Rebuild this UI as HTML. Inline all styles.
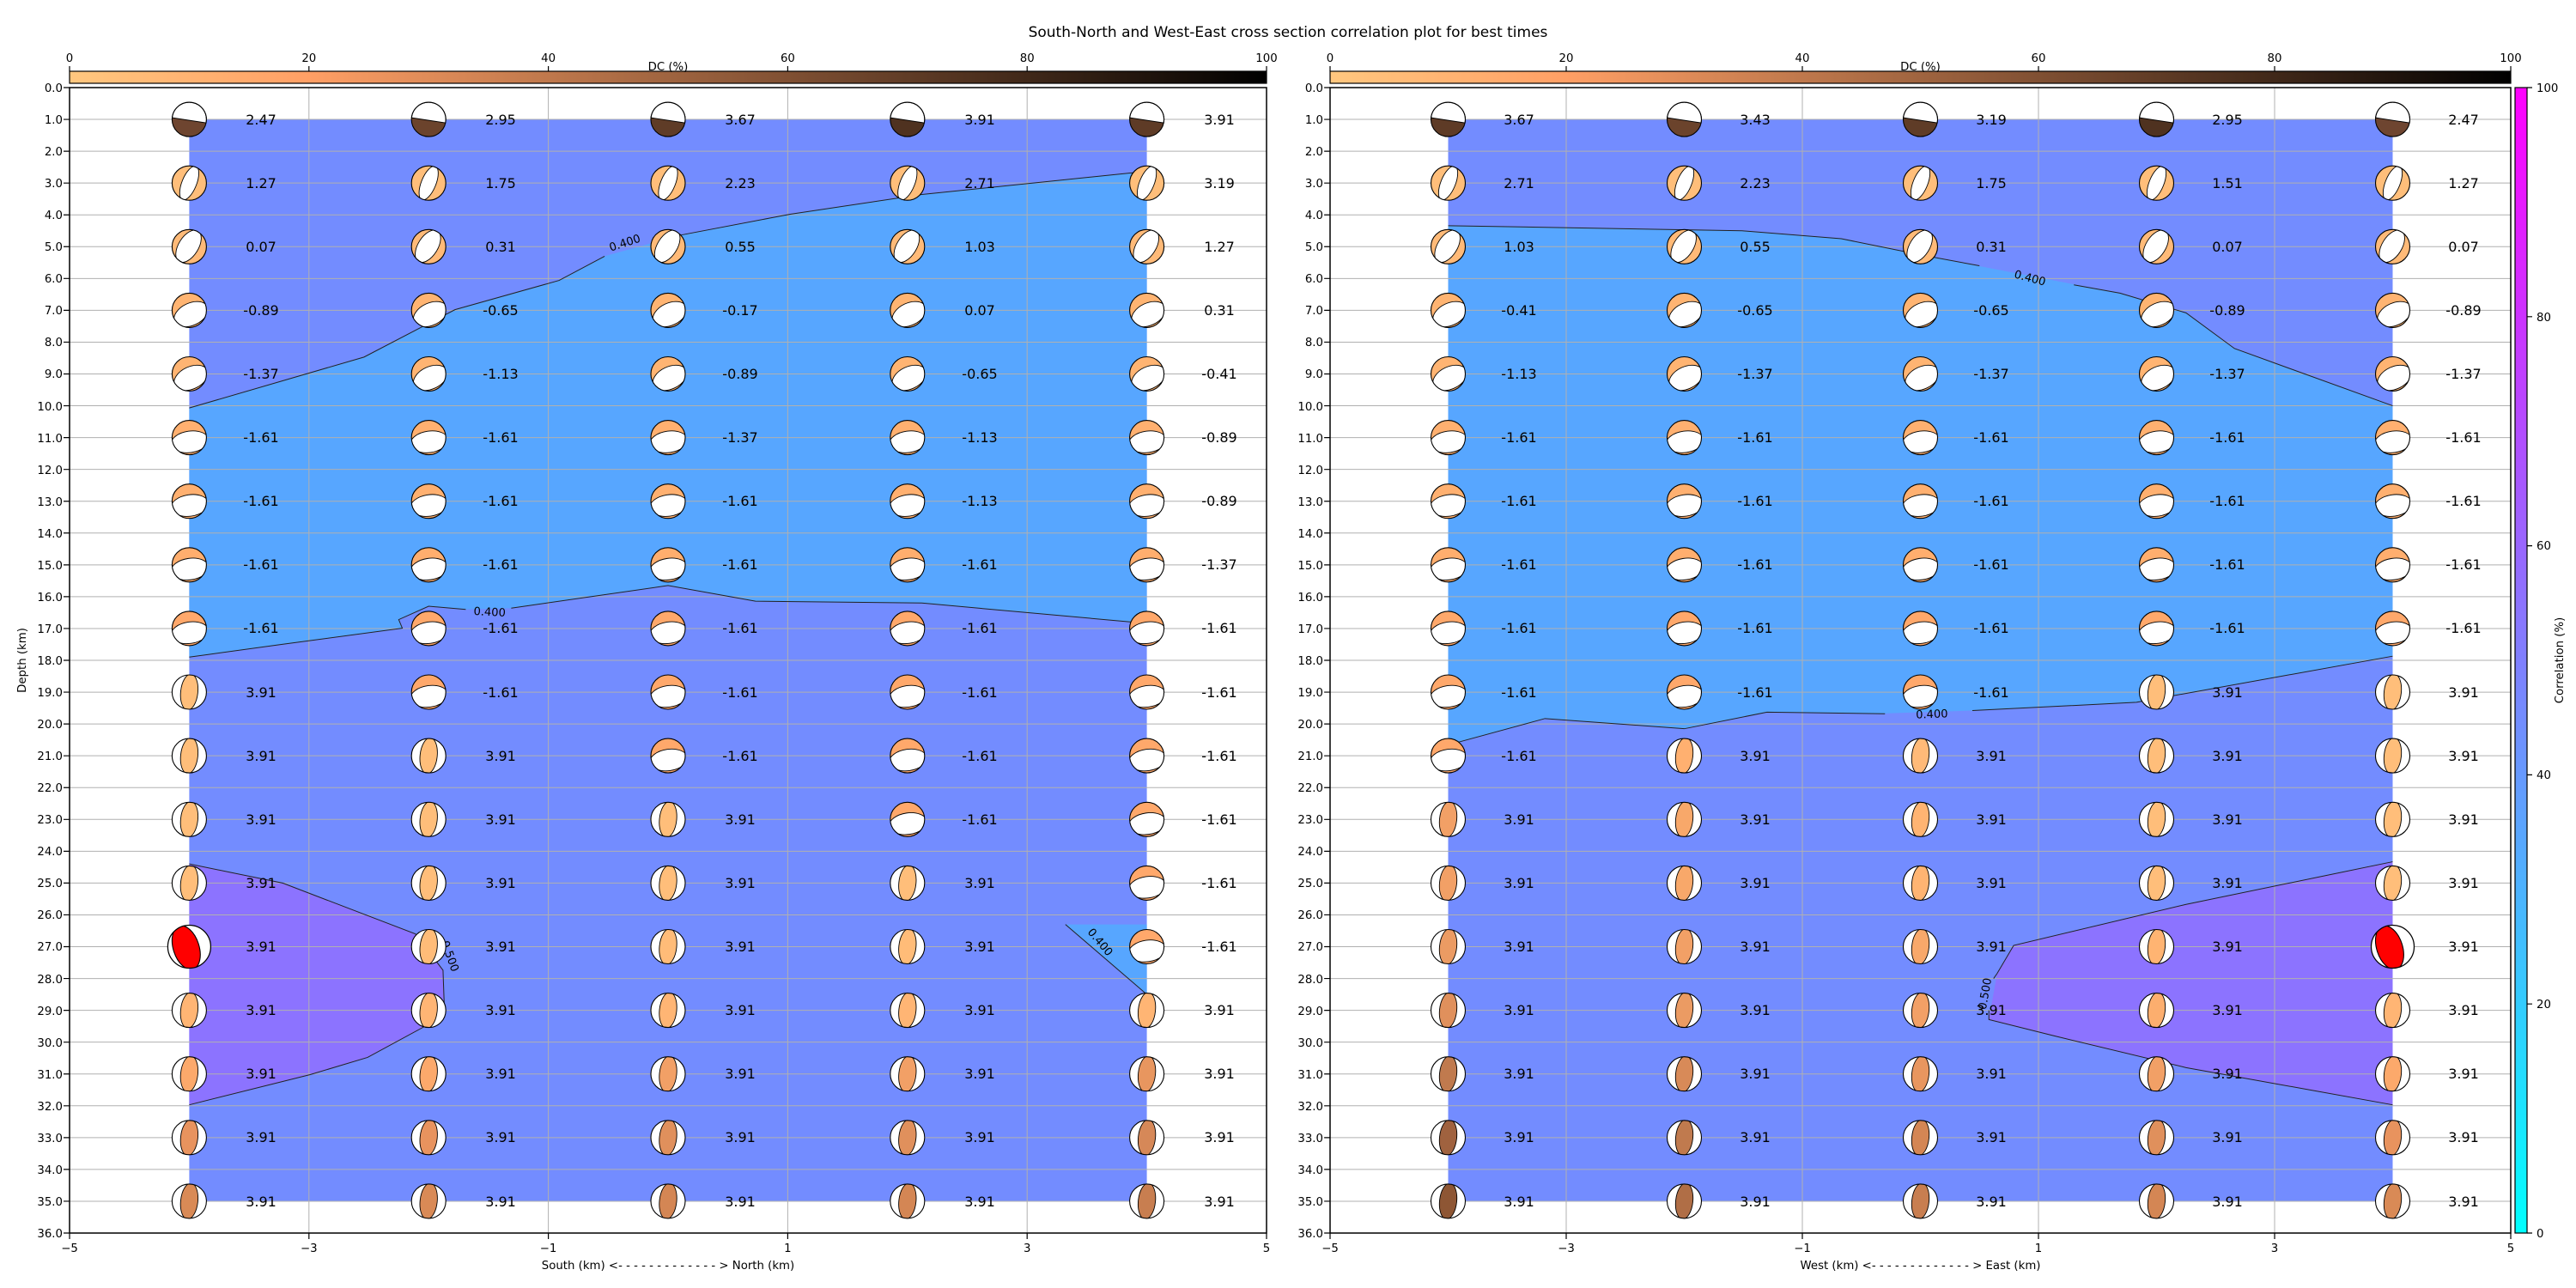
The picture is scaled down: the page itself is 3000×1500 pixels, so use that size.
<!DOCTYPE html>
<html><head><meta charset="utf-8"><style>
body{margin:0;background:#fff}
svg{display:block}
text{font-family:"DejaVu Sans","Liberation Sans",sans-serif;fill:#000}
.t{font-size:13.3px}
.b{font-size:16px;text-anchor:middle}
.ye{text-anchor:end}
.m{text-anchor:middle}
.cl{font-size:13px;text-anchor:middle}
</style></head><body>
<svg width="3000" height="1500" viewBox="0 0 3000 1500" xmlns="http://www.w3.org/2000/svg">
<defs>
<linearGradient id="dc" x1="0" y1="0" x2="1" y2="0">
<stop offset="0" stop-color="#FFC77F"/><stop offset="0.2" stop-color="#FF9F65"/><stop offset="0.4" stop-color="#BF784C"/><stop offset="0.6" stop-color="#805033"/><stop offset="0.8" stop-color="#402819"/><stop offset="1" stop-color="#000"/>
</linearGradient>
<linearGradient id="cool" x1="0" y1="1" x2="0" y2="0">
<stop offset="0" stop-color="#00FFFF"/><stop offset="1" stop-color="#FF00FF"/>
</linearGradient>
<clipPath id="cc"><circle r="20"/></clipPath>
<g id="tw"><circle r="20"/><path d="M-19.9,-2 A20,20 0 1,1 19.6,4 Z" fill="#fff" stroke="#000" stroke-width="0.9"/><circle r="20" fill="none" stroke="#000" stroke-width="1.1"/></g>
<g id="lw"><circle r="20"/><ellipse rx="8.5" ry="21" transform="rotate(22)" fill="#fff" stroke="#000" stroke-width="0.9" clip-path="url(#cc)"/><circle r="20" fill="none" stroke="#000" stroke-width="1.1"/></g>
<g id="lw2"><circle r="20"/><ellipse cx="-1" rx="11.5" ry="21" transform="rotate(32)" fill="#fff" stroke="#000" stroke-width="0.9" clip-path="url(#cc)"/><circle r="20" fill="none" stroke="#000" stroke-width="1.1"/></g>
<g id="bw"><circle r="20"/><ellipse cy="5" rx="21" ry="13" transform="rotate(-25)" fill="#fff" stroke="#000" stroke-width="0.9" clip-path="url(#cc)"/><circle r="20" fill="none" stroke="#000" stroke-width="1.1"/></g>
<g id="bw2"><circle r="20"/><ellipse cy="5" rx="22" ry="12.5" transform="rotate(-8)" fill="#fff" stroke="#000" stroke-width="0.9" clip-path="url(#cc)"/><circle r="20" fill="none" stroke="#000" stroke-width="1.1"/></g>
<g id="lc"><circle r="20" fill="#fff"/><ellipse rx="10" ry="21" transform="rotate(6)" stroke="#000" stroke-width="0.9" clip-path="url(#cc)"/><circle r="20" fill="none" stroke="#000" stroke-width="1.1"/></g>
<g id="lcr"><circle r="20" fill="#fff"/><ellipse cx="-3" rx="12" ry="21" transform="rotate(-18)" stroke="#000" stroke-width="0.9" clip-path="url(#cc)"/><circle r="20" fill="none" stroke="#000" stroke-width="1"/></g>
</defs>
<rect width="3000" height="1500" fill="#fff"/>
<text x="1500" y="43" class="m" style="font-size:17px">South-North and West-East cross section correlation plot for best times</text>

<rect x="81" y="83" width="1394" height="14" fill="url(#dc)" stroke="#000" stroke-width="1.2"/>
<rect x="1549" y="83" width="1375" height="14" fill="url(#dc)" stroke="#000" stroke-width="1.2"/>
<path d="M81 83v-6M359.8 83v-6M638.6 83v-6M917.4 83v-6M1196.2 83v-6M1475 83v-6M1549 83v-6M1824 83v-6M2099 83v-6M2374 83v-6M2649 83v-6M2924 83v-6" stroke="#000" stroke-width="1.2"/>
<g class="t m">
<text x="81" y="72" class="m t">0</text><text x="359.8" y="72" class="m t">20</text><text x="638.6" y="72" class="m t">40</text><text x="917.4" y="72" class="m t">60</text><text x="1196.2" y="72" class="m t">80</text><text x="1475" y="72" class="m t">100</text>
<text x="1549" y="72" class="m t">0</text><text x="1824" y="72" class="m t">20</text><text x="2099" y="72" class="m t">40</text><text x="2374" y="72" class="m t">60</text><text x="2649" y="72" class="m t">80</text><text x="2924" y="72" class="m t">100</text>
<text x="778" y="82" class="m t">DC (%)</text><text x="2236.5" y="82" class="m t">DC (%)</text>
</g>

<rect x="2929" y="102" width="14" height="1334" fill="url(#cool)" stroke="#000" stroke-width="1.2"/>
<path d="M2943 1436h6M2943 1169.2h6M2943 902.4h6M2943 635.6h6M2943 368.8h6M2943 102h6" stroke="#000" stroke-width="1.2"/>
<text x="2954" y="1441" class="t">0</text><text x="2954" y="1174" class="t">20</text><text x="2954" y="907" class="t">40</text><text x="2954" y="640" class="t">60</text><text x="2954" y="374" class="t">80</text><text x="2954" y="107" class="t">100</text>
<text transform="translate(2985,769) rotate(-90)" class="t m">Correlation (%)</text>

<g transform="translate(778,102) scale(139.4,37.056)">
<rect x="-4" y="1" width="8" height="34" fill="#738CFF"/>
<polygon fill="#57A6FF" points="-4,10.07 -2.54,8.47 -1.78,6.98 -0.91,6.06 -0.53,5.3 0.1,4.64 1.02,3.98 2.12,3.36 4,2.63 4,16.84 2.12,16.2 0.73,16.14 0,15.65 -1.31,16.36 -1.69,16.4 -2,16.3 -2.25,16.72 -2.22,16.99 -3.23,17.5 -4,17.9"/>
<polygon fill="#57A6FF" points="3.32,26.3 4,26.3 4,28.5"/>
<polygon fill="#8C73FF" points="-4,24.4 -3.22,25 -2.11,26.6 -1.88,27.74 -1.87,28.8 -2.03,29.5 -2.51,30.48 -2.99,31.02 -4,31.97"/>
<path d="M-5 0H5M-5 1H5M-5 2H5M-5 3H5M-5 4H5M-5 5H5M-5 6H5M-5 7H5M-5 8H5M-5 9H5M-5 10H5M-5 11H5M-5 12H5M-5 13H5M-5 14H5M-5 15H5M-5 16H5M-5 17H5M-5 18H5M-5 19H5M-5 20H5M-5 21H5M-5 22H5M-5 23H5M-5 24H5M-5 25H5M-5 26H5M-5 27H5M-5 28H5M-5 29H5M-5 30H5M-5 31H5M-5 32H5M-5 33H5M-5 34H5M-5 35H5M-3 0V36M-1 0V36M1 0V36M3 0V36" stroke="#b0b0b0" stroke-width="1" fill="none" vector-effect="non-scaling-stroke"/>
<g fill="none" stroke="#222" stroke-width="1">
<polyline vector-effect="non-scaling-stroke" points="-4,10.07 -2.54,8.47 -1.78,6.98 -0.91,6.06 -0.53,5.3"/>
<polyline vector-effect="non-scaling-stroke" points="0.1,4.64 1.02,3.98 2.12,3.36 4,2.63"/>
<polyline vector-effect="non-scaling-stroke" points="4,16.84 2.12,16.2 0.73,16.14 0,15.65 -1.31,16.36"/>
<polyline vector-effect="non-scaling-stroke" points="-1.69,16.4 -2,16.3 -2.25,16.72 -2.22,16.99 -3.23,17.5 -4,17.9"/>
<polyline vector-effect="non-scaling-stroke" points="3.32,26.3 4,28.5"/>
<polyline vector-effect="non-scaling-stroke" points="-4,24.4 -3.22,25 -2.11,26.6 -1.88,27.74 -1.87,28.8 -2.03,29.5 -2.51,30.48 -2.99,31.02 -4,31.97"/>
</g>
<path d="M-5 0h-0.05M-5 1h-0.05M-5 2h-0.05M-5 3h-0.05M-5 4h-0.05M-5 5h-0.05M-5 6h-0.05M-5 7h-0.05M-5 8h-0.05M-5 9h-0.05M-5 10h-0.05M-5 11h-0.05M-5 12h-0.05M-5 13h-0.05M-5 14h-0.05M-5 15h-0.05M-5 16h-0.05M-5 17h-0.05M-5 18h-0.05M-5 19h-0.05M-5 20h-0.05M-5 21h-0.05M-5 22h-0.05M-5 23h-0.05M-5 24h-0.05M-5 25h-0.05M-5 26h-0.05M-5 27h-0.05M-5 28h-0.05M-5 29h-0.05M-5 30h-0.05M-5 31h-0.05M-5 32h-0.05M-5 33h-0.05M-5 34h-0.05M-5 35h-0.05M-5 36h-0.05M-5 36v0.19M-3 36v0.19M-1 36v0.19M1 36v0.19M3 36v0.19M5 36v0.19" stroke="#000" stroke-width="1.2" vector-effect="non-scaling-stroke"/>
<rect x="-5" y="0" width="10" height="36" fill="none" stroke="#000" stroke-width="1.5" vector-effect="non-scaling-stroke"/>
</g>
<text transform="translate(729,287) rotate(-18)" class="cl">0.400</text>
<text transform="translate(570,717) rotate(3)" class="cl">0.400</text>
<text transform="translate(1278,1100) rotate(50)" class="cl">0.400</text>
<text transform="translate(520,1115) rotate(70)" class="cl">0.500</text>

<g transform="translate(2236.5,102) scale(137.5,37.056)">
<rect x="-4" y="1" width="8" height="34" fill="#738CFF"/>
<polygon fill="#57A6FF" points="-4,4.34 -1.51,4.5 -0.67,4.75 0.02,5.27 1.69,6.46 2.25,7.08 2.66,8.2 4,10 4,17.87 1.83,19.32 0.44,19.58 -0.4,19.68 -1.3,19.63 -2,20.15 -3.18,19.83 -4,20.66"/>
<polygon fill="#8C73FF" points="4,24.33 2.25,25.67 0.79,26.96 0.65,27.84 0.58,29.29 1.13,29.8 2.25,30.8 4,31.97"/>
<path d="M-5 0H5M-5 1H5M-5 2H5M-5 3H5M-5 4H5M-5 5H5M-5 6H5M-5 7H5M-5 8H5M-5 9H5M-5 10H5M-5 11H5M-5 12H5M-5 13H5M-5 14H5M-5 15H5M-5 16H5M-5 17H5M-5 18H5M-5 19H5M-5 20H5M-5 21H5M-5 22H5M-5 23H5M-5 24H5M-5 25H5M-5 26H5M-5 27H5M-5 28H5M-5 29H5M-5 30H5M-5 31H5M-5 32H5M-5 33H5M-5 34H5M-5 35H5M-3 0V36M-1 0V36M1 0V36M3 0V36" stroke="#b0b0b0" stroke-width="1" fill="none" vector-effect="non-scaling-stroke"/>
<g fill="none" stroke="#222" stroke-width="1">
<polyline vector-effect="non-scaling-stroke" points="-4,4.34 -1.51,4.5 -0.67,4.75 0.02,5.27 0.5,5.6"/>
<polyline vector-effect="non-scaling-stroke" points="1.3,6.2 1.69,6.46 2.25,7.08 2.66,8.2 4,10"/>
<polyline vector-effect="non-scaling-stroke" points="4,17.87 1.83,19.32 0.44,19.58"/>
<polyline vector-effect="non-scaling-stroke" points="-0.3,19.68 -1.3,19.63 -2,20.15 -3.18,19.83 -4,20.66"/>
<polyline vector-effect="non-scaling-stroke" points="4,24.33 2.25,25.67 0.79,26.96 0.65,27.84 0.62,28.0"/>
<polyline vector-effect="non-scaling-stroke" points="0.58,29.0 0.58,29.29 1.13,29.8 2.25,30.8 4,31.97"/>
</g>
<path d="M-5 0h-0.05M-5 1h-0.05M-5 2h-0.05M-5 3h-0.05M-5 4h-0.05M-5 5h-0.05M-5 6h-0.05M-5 7h-0.05M-5 8h-0.05M-5 9h-0.05M-5 10h-0.05M-5 11h-0.05M-5 12h-0.05M-5 13h-0.05M-5 14h-0.05M-5 15h-0.05M-5 16h-0.05M-5 17h-0.05M-5 18h-0.05M-5 19h-0.05M-5 20h-0.05M-5 21h-0.05M-5 22h-0.05M-5 23h-0.05M-5 24h-0.05M-5 25h-0.05M-5 26h-0.05M-5 27h-0.05M-5 28h-0.05M-5 29h-0.05M-5 30h-0.05M-5 31h-0.05M-5 32h-0.05M-5 33h-0.05M-5 34h-0.05M-5 35h-0.05M-5 36h-0.05M-5 36v0.19M-3 36v0.19M-1 36v0.19M1 36v0.19M3 36v0.19M5 36v0.19" stroke="#000" stroke-width="1.2" vector-effect="non-scaling-stroke"/>
<rect x="-5" y="0" width="10" height="36" fill="none" stroke="#000" stroke-width="1.5" vector-effect="non-scaling-stroke"/>
</g>
<text transform="translate(2363,328) rotate(15)" class="cl">0.400</text>
<text transform="translate(2250,836) rotate(-2)" class="cl">0.400</text>
<text transform="translate(2316,1158) rotate(-80)" class="cl">0.500</text>

<g>
<text x="73" y="107" class="t ye">0.0</text><text x="73" y="144" class="t ye">1.0</text><text x="73" y="181" class="t ye">2.0</text><text x="73" y="218" class="t ye">3.0</text><text x="73" y="255" class="t ye">4.0</text><text x="73" y="292" class="t ye">5.0</text><text x="73" y="329" class="t ye">6.0</text><text x="73" y="366" class="t ye">7.0</text><text x="73" y="403" class="t ye">8.0</text><text x="73" y="440" class="t ye">9.0</text><text x="73" y="478" class="t ye">10.0</text><text x="73" y="515" class="t ye">11.0</text><text x="73" y="552" class="t ye">12.0</text><text x="73" y="589" class="t ye">13.0</text><text x="73" y="626" class="t ye">14.0</text><text x="73" y="663" class="t ye">15.0</text><text x="73" y="700" class="t ye">16.0</text><text x="73" y="737" class="t ye">17.0</text><text x="73" y="774" class="t ye">18.0</text><text x="73" y="811" class="t ye">19.0</text><text x="73" y="848" class="t ye">20.0</text><text x="73" y="885" class="t ye">21.0</text><text x="73" y="922" class="t ye">22.0</text><text x="73" y="959" class="t ye">23.0</text><text x="73" y="996" class="t ye">24.0</text><text x="73" y="1033" class="t ye">25.0</text><text x="73" y="1070" class="t ye">26.0</text><text x="73" y="1107" class="t ye">27.0</text><text x="73" y="1145" class="t ye">28.0</text><text x="73" y="1182" class="t ye">29.0</text><text x="73" y="1219" class="t ye">30.0</text><text x="73" y="1256" class="t ye">31.0</text><text x="73" y="1293" class="t ye">32.0</text><text x="73" y="1330" class="t ye">33.0</text><text x="73" y="1367" class="t ye">34.0</text><text x="73" y="1404" class="t ye">35.0</text><text x="73" y="1441" class="t ye">36.0</text>
</g>
<g transform="translate(1468,0)">
<text x="73" y="107" class="t ye">0.0</text><text x="73" y="144" class="t ye">1.0</text><text x="73" y="181" class="t ye">2.0</text><text x="73" y="218" class="t ye">3.0</text><text x="73" y="255" class="t ye">4.0</text><text x="73" y="292" class="t ye">5.0</text><text x="73" y="329" class="t ye">6.0</text><text x="73" y="366" class="t ye">7.0</text><text x="73" y="403" class="t ye">8.0</text><text x="73" y="440" class="t ye">9.0</text><text x="73" y="478" class="t ye">10.0</text><text x="73" y="515" class="t ye">11.0</text><text x="73" y="552" class="t ye">12.0</text><text x="73" y="589" class="t ye">13.0</text><text x="73" y="626" class="t ye">14.0</text><text x="73" y="663" class="t ye">15.0</text><text x="73" y="700" class="t ye">16.0</text><text x="73" y="737" class="t ye">17.0</text><text x="73" y="774" class="t ye">18.0</text><text x="73" y="811" class="t ye">19.0</text><text x="73" y="848" class="t ye">20.0</text><text x="73" y="885" class="t ye">21.0</text><text x="73" y="922" class="t ye">22.0</text><text x="73" y="959" class="t ye">23.0</text><text x="73" y="996" class="t ye">24.0</text><text x="73" y="1033" class="t ye">25.0</text><text x="73" y="1070" class="t ye">26.0</text><text x="73" y="1107" class="t ye">27.0</text><text x="73" y="1145" class="t ye">28.0</text><text x="73" y="1182" class="t ye">29.0</text><text x="73" y="1219" class="t ye">30.0</text><text x="73" y="1256" class="t ye">31.0</text><text x="73" y="1293" class="t ye">32.0</text><text x="73" y="1330" class="t ye">33.0</text><text x="73" y="1367" class="t ye">34.0</text><text x="73" y="1404" class="t ye">35.0</text><text x="73" y="1441" class="t ye">36.0</text>
</g>

<text x="81" y="1458" class="t m">−5</text><text x="359.8" y="1458" class="t m">−3</text><text x="638.6" y="1458" class="t m">−1</text><text x="917.4" y="1458" class="t m">1</text><text x="1196.2" y="1458" class="t m">3</text><text x="1475" y="1458" class="t m">5</text>
<text x="1549" y="1458" class="t m">−5</text><text x="1824" y="1458" class="t m">−3</text><text x="2099" y="1458" class="t m">−1</text><text x="2374" y="1458" class="t m">1</text><text x="2649" y="1458" class="t m">3</text><text x="2924" y="1458" class="t m">5</text>
<text x="778" y="1478" class="t m">South (km) &lt;- - - - - - - - - - - - - &gt; North (km)</text>
<text x="2236.5" y="1478" class="t m">West (km) &lt;- - - - - - - - - - - - - &gt; East (km)</text>
<text transform="translate(30,769) rotate(-90)" class="t m">Depth (km)</text>

<g>
<use href="#tw" x="220.4" y="139.1" fill="#6E4530"/><use href="#tw" x="499.2" y="139.1" fill="#6B432C"/><use href="#tw" x="778" y="139.1" fill="#5F3C27"/><use href="#tw" x="1056.8" y="139.1" fill="#4F3220"/><use href="#tw" x="1335.6" y="139.1" fill="#5E3B26"/>
<use href="#lw" x="220.4" y="213.2" fill="#FFBE7A"/><use href="#lw" x="499.2" y="213.2" fill="#FFBE7A"/><use href="#lw" x="778" y="213.2" fill="#FFBE7A"/><use href="#lw" x="1056.8" y="213.2" fill="#FFBE7A"/><use href="#lw" x="1335.6" y="213.2" fill="#FFBE7A"/>
<use href="#lw2" x="220.4" y="287.3" fill="#FFBA78"/><use href="#lw2" x="499.2" y="287.3" fill="#FFBA78"/><use href="#lw2" x="778" y="287.3" fill="#FFBA78"/><use href="#lw2" x="1056.8" y="287.3" fill="#FFBA78"/><use href="#lw2" x="1335.6" y="287.3" fill="#FFBA78"/>
<use href="#bw" x="220.4" y="361.4" fill="#FFB472"/><use href="#bw" x="499.2" y="361.4" fill="#FFB472"/><use href="#bw" x="778" y="361.4" fill="#FFB472"/><use href="#bw" x="1056.8" y="361.4" fill="#FFB472"/><use href="#bw" x="1335.6" y="361.4" fill="#FFB472"/>
<use href="#bw" x="220.4" y="435.5" fill="#FFB472"/><use href="#bw" x="499.2" y="435.5" fill="#FFB472"/><use href="#bw" x="778" y="435.5" fill="#FFB472"/><use href="#bw" x="1056.8" y="435.5" fill="#FFB472"/><use href="#bw" x="1335.6" y="435.5" fill="#FFB472"/>
<use href="#bw2" x="220.4" y="509.6" fill="#FFB070"/><use href="#bw2" x="499.2" y="509.6" fill="#FFB070"/><use href="#bw2" x="778" y="509.6" fill="#FFB070"/><use href="#bw2" x="1056.8" y="509.6" fill="#FFB070"/><use href="#bw2" x="1335.6" y="509.6" fill="#FFB070"/>
<use href="#bw2" x="220.4" y="583.7" fill="#FFB070"/><use href="#bw2" x="499.2" y="583.7" fill="#FFB070"/><use href="#bw2" x="778" y="583.7" fill="#FFB070"/><use href="#bw2" x="1056.8" y="583.7" fill="#FFB070"/><use href="#bw2" x="1335.6" y="583.7" fill="#FFB070"/>
<use href="#bw2" x="220.4" y="657.8" fill="#FFAE6E"/><use href="#bw2" x="499.2" y="657.8" fill="#FFAE6E"/><use href="#bw2" x="778" y="657.8" fill="#FFAE6E"/><use href="#bw2" x="1056.8" y="657.8" fill="#FFAE6E"/><use href="#bw2" x="1335.6" y="657.8" fill="#FFAE6E"/>
<use href="#bw2" x="220.4" y="731.9" fill="#FFA86B"/><use href="#bw2" x="499.2" y="731.9" fill="#FFA86B"/><use href="#bw2" x="778" y="731.9" fill="#FFA86B"/><use href="#bw2" x="1056.8" y="731.9" fill="#FFA86B"/><use href="#bw2" x="1335.6" y="731.9" fill="#FFA86B"/>
<use href="#lc" x="220.4" y="806" fill="#FFBE7A"/><use href="#bw2" x="499.2" y="806" fill="#FFA86B"/><use href="#bw2" x="778" y="806" fill="#FFA86B"/><use href="#bw2" x="1056.8" y="806" fill="#FFA86B"/><use href="#bw2" x="1335.6" y="806" fill="#FFA86B"/>
<use href="#lc" x="220.4" y="880.1" fill="#FFBE7A"/><use href="#lc" x="499.2" y="880.1" fill="#FFBE7A"/><use href="#bw2" x="778" y="880.1" fill="#FFA86B"/><use href="#bw2" x="1056.8" y="880.1" fill="#FFA86B"/><use href="#bw2" x="1335.6" y="880.1" fill="#FFA86B"/>
<use href="#lc" x="220.4" y="954.3" fill="#FFBE7A"/><use href="#lc" x="499.2" y="954.3" fill="#FFBE7A"/><use href="#lc" x="778" y="954.3" fill="#FFBE7A"/><use href="#bw2" x="1056.8" y="954.3" fill="#FFA86B"/><use href="#bw2" x="1335.6" y="954.3" fill="#FFA86B"/>
<use href="#lc" x="220.4" y="1028.4" fill="#FFBE7A"/><use href="#lc" x="499.2" y="1028.4" fill="#FFBE7A"/><use href="#lc" x="778" y="1028.4" fill="#FFBE7A"/><use href="#lc" x="1056.8" y="1028.4" fill="#FFBE7A"/><use href="#bw2" x="1335.6" y="1028.4" fill="#FFA86B"/>
<use href="#lcr" transform="translate(220.4,1102.5) scale(1.25)" fill="#FF0000"/><use href="#lc" x="499.2" y="1102.5" fill="#FFBC78"/><use href="#lc" x="778" y="1102.5" fill="#FFBC78"/><use href="#lc" x="1056.8" y="1102.5" fill="#FFBC78"/><use href="#bw2" x="1335.6" y="1102.5" fill="#FFA86B"/>
<use href="#lc" x="220.4" y="1176.6" fill="#FFB574"/><use href="#lc" x="499.2" y="1176.6" fill="#FFB574"/><use href="#lc" x="778" y="1176.6" fill="#FFB574"/><use href="#lc" x="1056.8" y="1176.6" fill="#FFB574"/><use href="#lc" x="1335.6" y="1176.6" fill="#FFB574"/>
<use href="#lc" x="220.4" y="1250.7" fill="#FCA96B"/><use href="#lc" x="499.2" y="1250.7" fill="#FCA96B"/><use href="#lc" x="778" y="1250.7" fill="#F2A066"/><use href="#lc" x="1056.8" y="1250.7" fill="#F2A066"/><use href="#lc" x="1335.6" y="1250.7" fill="#E8965F"/>
<use href="#lc" x="220.4" y="1324.8" fill="#E8935E"/><use href="#lc" x="499.2" y="1324.8" fill="#E8935E"/><use href="#lc" x="778" y="1324.8" fill="#E0905C"/><use href="#lc" x="1056.8" y="1324.8" fill="#E0905C"/><use href="#lc" x="1335.6" y="1324.8" fill="#D68858"/>
<use href="#lc" x="220.4" y="1398.9" fill="#D98A56"/><use href="#lc" x="499.2" y="1398.9" fill="#D98A56"/><use href="#lc" x="778" y="1398.9" fill="#D48654"/><use href="#lc" x="1056.8" y="1398.9" fill="#D48654"/><use href="#lc" x="1335.6" y="1398.9" fill="#C87E50"/>
</g>

<g>
<use href="#tw" x="1686.5" y="139.1" fill="#5E3B26"/><use href="#tw" x="1961.5" y="139.1" fill="#6B432C"/><use href="#tw" x="2236.5" y="139.1" fill="#5F3C27"/><use href="#tw" x="2511.5" y="139.1" fill="#4F3220"/><use href="#tw" x="2786.5" y="139.1" fill="#6E4530"/>
<use href="#lw" x="1686.5" y="213.2" fill="#FFBE7A"/><use href="#lw" x="1961.5" y="213.2" fill="#FFBE7A"/><use href="#lw" x="2236.5" y="213.2" fill="#FFBE7A"/><use href="#lw" x="2511.5" y="213.2" fill="#FFBE7A"/><use href="#lw" x="2786.5" y="213.2" fill="#FFBE7A"/>
<use href="#lw2" x="1686.5" y="287.3" fill="#FFBA78"/><use href="#lw2" x="1961.5" y="287.3" fill="#FFBA78"/><use href="#lw2" x="2236.5" y="287.3" fill="#FFBA78"/><use href="#lw2" x="2511.5" y="287.3" fill="#FFBA78"/><use href="#lw2" x="2786.5" y="287.3" fill="#FFBA78"/>
<use href="#bw" x="1686.5" y="361.4" fill="#FFB472"/><use href="#bw" x="1961.5" y="361.4" fill="#FFB472"/><use href="#bw" x="2236.5" y="361.4" fill="#FFB472"/><use href="#bw" x="2511.5" y="361.4" fill="#FFB472"/><use href="#bw" x="2786.5" y="361.4" fill="#FFB472"/>
<use href="#bw" x="1686.5" y="435.5" fill="#FFB472"/><use href="#bw" x="1961.5" y="435.5" fill="#FFB472"/><use href="#bw" x="2236.5" y="435.5" fill="#FFB472"/><use href="#bw" x="2511.5" y="435.5" fill="#FFB472"/><use href="#bw" x="2786.5" y="435.5" fill="#FFB472"/>
<use href="#bw2" x="1686.5" y="509.6" fill="#FFB070"/><use href="#bw2" x="1961.5" y="509.6" fill="#FFB070"/><use href="#bw2" x="2236.5" y="509.6" fill="#FFB070"/><use href="#bw2" x="2511.5" y="509.6" fill="#FFB070"/><use href="#bw2" x="2786.5" y="509.6" fill="#FFB070"/>
<use href="#bw2" x="1686.5" y="583.7" fill="#FFB070"/><use href="#bw2" x="1961.5" y="583.7" fill="#FFB070"/><use href="#bw2" x="2236.5" y="583.7" fill="#FFB070"/><use href="#bw2" x="2511.5" y="583.7" fill="#FFB070"/><use href="#bw2" x="2786.5" y="583.7" fill="#FFB070"/>
<use href="#bw2" x="1686.5" y="657.8" fill="#FFAE6E"/><use href="#bw2" x="1961.5" y="657.8" fill="#FFAE6E"/><use href="#bw2" x="2236.5" y="657.8" fill="#FFAE6E"/><use href="#bw2" x="2511.5" y="657.8" fill="#FFAE6E"/><use href="#bw2" x="2786.5" y="657.8" fill="#FFAE6E"/>
<use href="#bw2" x="1686.5" y="731.9" fill="#FFA86B"/><use href="#bw2" x="1961.5" y="731.9" fill="#FFA86B"/><use href="#bw2" x="2236.5" y="731.9" fill="#FFA86B"/><use href="#bw2" x="2511.5" y="731.9" fill="#FFA86B"/><use href="#bw2" x="2786.5" y="731.9" fill="#FFA86B"/>
<use href="#bw2" x="1686.5" y="806" fill="#FFA86B"/><use href="#bw2" x="1961.5" y="806" fill="#FFA86B"/><use href="#bw2" x="2236.5" y="806" fill="#FFA86B"/><use href="#lc" x="2511.5" y="806" fill="#FFBE7A"/><use href="#lc" x="2786.5" y="806" fill="#FFBE7A"/>
<use href="#bw2" x="1686.5" y="880.1" fill="#FFA86B"/><use href="#lc" x="1961.5" y="880.1" fill="#FFB070"/><use href="#lc" x="2236.5" y="880.1" fill="#FFBA78"/><use href="#lc" x="2511.5" y="880.1" fill="#FFBE7A"/><use href="#lc" x="2786.5" y="880.1" fill="#FFBE7A"/>
<use href="#lc" x="1686.5" y="954.3" fill="#F2A066"/><use href="#lc" x="1961.5" y="954.3" fill="#F8A86A"/><use href="#lc" x="2236.5" y="954.3" fill="#FFB472"/><use href="#lc" x="2511.5" y="954.3" fill="#FFBE7A"/><use href="#lc" x="2786.5" y="954.3" fill="#FFBE7A"/>
<use href="#lc" x="1686.5" y="1028.4" fill="#F2A066"/><use href="#lc" x="1961.5" y="1028.4" fill="#F8A86A"/><use href="#lc" x="2236.5" y="1028.4" fill="#FFB472"/><use href="#lc" x="2511.5" y="1028.4" fill="#FFBE7A"/><use href="#lc" x="2786.5" y="1028.4" fill="#FFBE7A"/>
<use href="#lc" x="1686.5" y="1102.5" fill="#EB9B63"/><use href="#lc" x="1961.5" y="1102.5" fill="#F2A066"/><use href="#lc" x="2236.5" y="1102.5" fill="#F8A86A"/><use href="#lc" x="2511.5" y="1102.5" fill="#FFB472"/><use href="#lcr" transform="translate(2786.5,1102.5) scale(1.25)" fill="#FF0000"/>
<use href="#lc" x="1686.5" y="1176.6" fill="#E0905C"/><use href="#lc" x="1961.5" y="1176.6" fill="#EB9B63"/><use href="#lc" x="2236.5" y="1176.6" fill="#F2A066"/><use href="#lc" x="2511.5" y="1176.6" fill="#FCAE6E"/><use href="#lc" x="2786.5" y="1176.6" fill="#FFB574"/>
<use href="#lc" x="1686.5" y="1250.7" fill="#C07A4E"/><use href="#lc" x="1961.5" y="1250.7" fill="#D88A58"/><use href="#lc" x="2236.5" y="1250.7" fill="#E8965F"/><use href="#lc" x="2511.5" y="1250.7" fill="#F2A066"/><use href="#lc" x="2786.5" y="1250.7" fill="#FCA96B"/>
<use href="#lc" x="1686.5" y="1324.8" fill="#A0623F"/><use href="#lc" x="1961.5" y="1324.8" fill="#C07A4E"/><use href="#lc" x="2236.5" y="1324.8" fill="#D48654"/><use href="#lc" x="2511.5" y="1324.8" fill="#E0905C"/><use href="#lc" x="2786.5" y="1324.8" fill="#E8935E"/>
<use href="#lc" x="1686.5" y="1398.9" fill="#8E5634"/><use href="#lc" x="1961.5" y="1398.9" fill="#B06E46"/><use href="#lc" x="2236.5" y="1398.9" fill="#C87E50"/><use href="#lc" x="2511.5" y="1398.9" fill="#D48654"/><use href="#lc" x="2786.5" y="1398.9" fill="#D98A56"/>
</g>

<g>
<text class="b" x="304" y="145">2.47</text><text class="b" x="583" y="145">2.95</text><text class="b" x="862" y="145">3.67</text><text class="b" x="1141" y="145">3.91</text><text class="b" x="1420" y="145">3.91</text>
<text class="b" x="304" y="219">1.27</text><text class="b" x="583" y="219">1.75</text><text class="b" x="862" y="219">2.23</text><text class="b" x="1141" y="219">2.71</text><text class="b" x="1420" y="219">3.19</text>
<text class="b" x="304" y="293">0.07</text><text class="b" x="583" y="293">0.31</text><text class="b" x="862" y="293">0.55</text><text class="b" x="1141" y="293">1.03</text><text class="b" x="1420" y="293">1.27</text>
<text class="b" x="304" y="367">-0.89</text><text class="b" x="583" y="367">-0.65</text><text class="b" x="862" y="367">-0.17</text><text class="b" x="1141" y="367">0.07</text><text class="b" x="1420" y="367">0.31</text>
<text class="b" x="304" y="441">-1.37</text><text class="b" x="583" y="441">-1.13</text><text class="b" x="862" y="441">-0.89</text><text class="b" x="1141" y="441">-0.65</text><text class="b" x="1420" y="441">-0.41</text>
<text class="b" x="304" y="515">-1.61</text><text class="b" x="583" y="515">-1.61</text><text class="b" x="862" y="515">-1.37</text><text class="b" x="1141" y="515">-1.13</text><text class="b" x="1420" y="515">-0.89</text>
<text class="b" x="304" y="589">-1.61</text><text class="b" x="583" y="589">-1.61</text><text class="b" x="862" y="589">-1.61</text><text class="b" x="1141" y="589">-1.13</text><text class="b" x="1420" y="589">-0.89</text>
<text class="b" x="304" y="663">-1.61</text><text class="b" x="583" y="663">-1.61</text><text class="b" x="862" y="663">-1.61</text><text class="b" x="1141" y="663">-1.61</text><text class="b" x="1420" y="663">-1.37</text>
<text class="b" x="304" y="737">-1.61</text><text class="b" x="583" y="737">-1.61</text><text class="b" x="862" y="737">-1.61</text><text class="b" x="1141" y="737">-1.61</text><text class="b" x="1420" y="737">-1.61</text>
<text class="b" x="304" y="812">3.91</text><text class="b" x="583" y="812">-1.61</text><text class="b" x="862" y="812">-1.61</text><text class="b" x="1141" y="812">-1.61</text><text class="b" x="1420" y="812">-1.61</text>
<text class="b" x="304" y="886">3.91</text><text class="b" x="583" y="886">3.91</text><text class="b" x="862" y="886">-1.61</text><text class="b" x="1141" y="886">-1.61</text><text class="b" x="1420" y="886">-1.61</text>
<text class="b" x="304" y="960">3.91</text><text class="b" x="583" y="960">3.91</text><text class="b" x="862" y="960">3.91</text><text class="b" x="1141" y="960">-1.61</text><text class="b" x="1420" y="960">-1.61</text>
<text class="b" x="304" y="1034">3.91</text><text class="b" x="583" y="1034">3.91</text><text class="b" x="862" y="1034">3.91</text><text class="b" x="1141" y="1034">3.91</text><text class="b" x="1420" y="1034">-1.61</text>
<text class="b" x="304" y="1108">3.91</text><text class="b" x="583" y="1108">3.91</text><text class="b" x="862" y="1108">3.91</text><text class="b" x="1141" y="1108">3.91</text><text class="b" x="1420" y="1108">-1.61</text>
<text class="b" x="304" y="1182">3.91</text><text class="b" x="583" y="1182">3.91</text><text class="b" x="862" y="1182">3.91</text><text class="b" x="1141" y="1182">3.91</text><text class="b" x="1420" y="1182">3.91</text>
<text class="b" x="304" y="1256">3.91</text><text class="b" x="583" y="1256">3.91</text><text class="b" x="862" y="1256">3.91</text><text class="b" x="1141" y="1256">3.91</text><text class="b" x="1420" y="1256">3.91</text>
<text class="b" x="304" y="1330">3.91</text><text class="b" x="583" y="1330">3.91</text><text class="b" x="862" y="1330">3.91</text><text class="b" x="1141" y="1330">3.91</text><text class="b" x="1420" y="1330">3.91</text>
<text class="b" x="304" y="1405">3.91</text><text class="b" x="583" y="1405">3.91</text><text class="b" x="862" y="1405">3.91</text><text class="b" x="1141" y="1405">3.91</text><text class="b" x="1420" y="1405">3.91</text>
</g>

<g>
<text class="b" x="1769" y="145">3.67</text><text class="b" x="2044" y="145">3.43</text><text class="b" x="2319" y="145">3.19</text><text class="b" x="2594" y="145">2.95</text><text class="b" x="2869" y="145">2.47</text>
<text class="b" x="1769" y="219">2.71</text><text class="b" x="2044" y="219">2.23</text><text class="b" x="2319" y="219">1.75</text><text class="b" x="2594" y="219">1.51</text><text class="b" x="2869" y="219">1.27</text>
<text class="b" x="1769" y="293">1.03</text><text class="b" x="2044" y="293">0.55</text><text class="b" x="2319" y="293">0.31</text><text class="b" x="2594" y="293">0.07</text><text class="b" x="2869" y="293">0.07</text>
<text class="b" x="1769" y="367">-0.41</text><text class="b" x="2044" y="367">-0.65</text><text class="b" x="2319" y="367">-0.65</text><text class="b" x="2594" y="367">-0.89</text><text class="b" x="2869" y="367">-0.89</text>
<text class="b" x="1769" y="441">-1.13</text><text class="b" x="2044" y="441">-1.37</text><text class="b" x="2319" y="441">-1.37</text><text class="b" x="2594" y="441">-1.37</text><text class="b" x="2869" y="441">-1.37</text>
<text class="b" x="1769" y="515">-1.61</text><text class="b" x="2044" y="515">-1.61</text><text class="b" x="2319" y="515">-1.61</text><text class="b" x="2594" y="515">-1.61</text><text class="b" x="2869" y="515">-1.61</text>
<text class="b" x="1769" y="589">-1.61</text><text class="b" x="2044" y="589">-1.61</text><text class="b" x="2319" y="589">-1.61</text><text class="b" x="2594" y="589">-1.61</text><text class="b" x="2869" y="589">-1.61</text>
<text class="b" x="1769" y="663">-1.61</text><text class="b" x="2044" y="663">-1.61</text><text class="b" x="2319" y="663">-1.61</text><text class="b" x="2594" y="663">-1.61</text><text class="b" x="2869" y="663">-1.61</text>
<text class="b" x="1769" y="737">-1.61</text><text class="b" x="2044" y="737">-1.61</text><text class="b" x="2319" y="737">-1.61</text><text class="b" x="2594" y="737">-1.61</text><text class="b" x="2869" y="737">-1.61</text>
<text class="b" x="1769" y="812">-1.61</text><text class="b" x="2044" y="812">-1.61</text><text class="b" x="2319" y="812">-1.61</text><text class="b" x="2594" y="812">3.91</text><text class="b" x="2869" y="812">3.91</text>
<text class="b" x="1769" y="886">-1.61</text><text class="b" x="2044" y="886">3.91</text><text class="b" x="2319" y="886">3.91</text><text class="b" x="2594" y="886">3.91</text><text class="b" x="2869" y="886">3.91</text>
<text class="b" x="1769" y="960">3.91</text><text class="b" x="2044" y="960">3.91</text><text class="b" x="2319" y="960">3.91</text><text class="b" x="2594" y="960">3.91</text><text class="b" x="2869" y="960">3.91</text>
<text class="b" x="1769" y="1034">3.91</text><text class="b" x="2044" y="1034">3.91</text><text class="b" x="2319" y="1034">3.91</text><text class="b" x="2594" y="1034">3.91</text><text class="b" x="2869" y="1034">3.91</text>
<text class="b" x="1769" y="1108">3.91</text><text class="b" x="2044" y="1108">3.91</text><text class="b" x="2319" y="1108">3.91</text><text class="b" x="2594" y="1108">3.91</text><text class="b" x="2869" y="1108">3.91</text>
<text class="b" x="1769" y="1182">3.91</text><text class="b" x="2044" y="1182">3.91</text><text class="b" x="2319" y="1182">3.91</text><text class="b" x="2594" y="1182">3.91</text><text class="b" x="2869" y="1182">3.91</text>
<text class="b" x="1769" y="1256">3.91</text><text class="b" x="2044" y="1256">3.91</text><text class="b" x="2319" y="1256">3.91</text><text class="b" x="2594" y="1256">3.91</text><text class="b" x="2869" y="1256">3.91</text>
<text class="b" x="1769" y="1330">3.91</text><text class="b" x="2044" y="1330">3.91</text><text class="b" x="2319" y="1330">3.91</text><text class="b" x="2594" y="1330">3.91</text><text class="b" x="2869" y="1330">3.91</text>
<text class="b" x="1769" y="1405">3.91</text><text class="b" x="2044" y="1405">3.91</text><text class="b" x="2319" y="1405">3.91</text><text class="b" x="2594" y="1405">3.91</text><text class="b" x="2869" y="1405">3.91</text>
</g>
</svg>
</body></html>
